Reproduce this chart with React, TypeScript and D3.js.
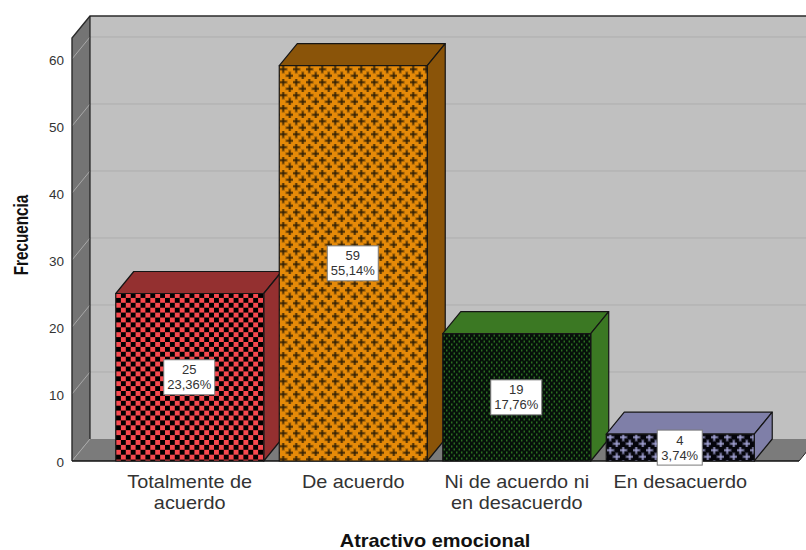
import React from "react";
import * as d3 from "d3";

const categories = ["Totalmente de|acuerdo", "De acuerdo", "Ni de acuerdo ni|en desacuerdo", "En desacuerdo"];
const frequencies = [25, 59, 19, 4];
const percents = ["23,36%", "55,14%", "17,76%", "3,74%"];
const yTicks = [0, 10, 20, 30, 40, 50, 60];
const frontColors = ["#f7494f", "#e68a08", "#2f7a24", "#a4a4d8"];
const sideColors = ["#943030", "#8a5409", "#3b7823", "#7f7fa8"];

const W = 806;
const H = 550;
const DX = 18;
const DY = 22;
const font = "'Liberation Sans', Arial, sans-serif";

const y = d3.scaleLinear().domain([0, 60]).range([461, 59]);
const x = d3.scaleBand<string>().domain(categories).range([108, 762]).paddingInner(0.095).paddingOuter(0.0475);

const wallLeft = 72;
const wallTop = 38;
const floorRight = 799;

const poly = (pts: [number, number][]) => pts.map((p) => p.join(",")).join(" ");

function Cross({ cx, cy, fill }: { cx: number; cy: number; fill: string }) {
  return (
    <g fill={fill}>
      <rect x={cx - 1.5} y={cy - 4.5} width={3} height={9} fillOpacity={0.3} />
      <rect x={cx - 4.5} y={cy - 1.5} width={9} height={3} fillOpacity={0.3} />
      <rect x={cx - 0.9} y={cy - 3.4} width={1.8} height={6.8} fillOpacity={0.65} />
      <rect x={cx - 3.4} y={cy - 0.9} width={6.8} height={1.8} fillOpacity={0.65} />
    </g>
  );
}

function Patterns() {
  const centres = [[3.25, 3.25], [9.75, 9.75]];
  return (
    <defs>
      <pattern id="fill0" width={9.8} height={9.8} patternUnits="userSpaceOnUse" x={116} y={293}>
        <rect width={9.8} height={9.8} fill="#000" />
        <rect x={0} y={0} width={4.9} height={4.9} fill={frontColors[0]} />
        <rect x={4.9} y={4.9} width={4.9} height={4.9} fill={frontColors[0]} />
      </pattern>
      <pattern id="fill1" width={13} height={13} patternUnits="userSpaceOnUse" x={280} y={66}>
        <rect width={13} height={13} fill={frontColors[1]} />
        {centres.map(([cx, cy], i) => (
          <Cross key={i} cx={cx} cy={cy} fill="#2e1d04" />
        ))}
      </pattern>
      <pattern id="fill2" width={5} height={6} patternUnits="userSpaceOnUse" x={443} y={334}>
        <rect width={5} height={6} fill="#06100a" />
        <rect x={0.6} y={0.5} width={1.3} height={2} fill={frontColors[2]} />
        <rect x={3.1} y={3.5} width={1.3} height={2} fill={frontColors[2]} />
      </pattern>
      <pattern id="fill3" width={13} height={13} patternUnits="userSpaceOnUse" x={607} y={434}>
        <rect width={13} height={13} fill="#05050c" />
        {centres.map(([cx, cy], i) => (
          <Cross key={i} cx={cx} cy={cy} fill={frontColors[3]} />
        ))}
      </pattern>
    </defs>
  );
}

export default function App() {
  const y0 = y(0);
  return (
    <svg
      width={W}
      height={H}
      viewBox={`0 0 ${W} ${H}`}
      style={{ position: "absolute", left: 0, top: 0, background: "#fff" }}
      fontFamily={font}
    >
      <Patterns />

      {/* chart box: back wall, left wall and floor */}
      <rect x={wallLeft + DX} y={wallTop - DY} width={W} height={y0 - wallTop} fill="#c0c0c0" />
      <polygon
        points={poly([[wallLeft, wallTop], [wallLeft + DX, wallTop - DY], [wallLeft + DX, y0 - DY], [wallLeft, y0]])}
        fill="#747474"
      />
      <polygon
        points={poly([[wallLeft, y0], [wallLeft + DX, y0 - DY], [floorRight + DX, y0 - DY], [floorRight, y0]])}
        fill="#7b7b7b"
      />

      {/* gridlines run along the left wall and the back wall */}
      {yTicks.slice(1).map((t) => (
        <g key={t} fill="none">
          <line x1={wallLeft} y1={y(t)} x2={wallLeft + DX} y2={y(t) - DY} stroke="#a8a8a8" strokeWidth={1} />
          <line x1={wallLeft + DX} y1={y(t) - DY} x2={W} y2={y(t) - DY} stroke="#adadad" strokeWidth={1} />
        </g>
      ))}
      <line x1={wallLeft + DX} y1={y0 - DY} x2={wallLeft} y2={y0} stroke="#a8a8a8" strokeWidth={1} />

      {/* box outlines */}
      <polyline
        points={poly([[wallLeft, y0], [wallLeft, wallTop], [wallLeft + DX, wallTop - DY], [W, wallTop - DY]])}
        fill="none"
        stroke="#2b2b2b"
        strokeWidth={1.4}
      />
      <line x1={wallLeft + DX} y1={wallTop - DY} x2={wallLeft + DX} y2={y0 - DY} stroke="#1d1d1d" strokeWidth={1.2} />
      <line x1={wallLeft} y1={y0} x2={floorRight} y2={y0} stroke="#111" strokeWidth={1.6} />
      <line x1={floorRight} y1={y0} x2={floorRight + DX} y2={y0 - DY} stroke="#222" strokeWidth={1} />

      {/* y axis tick labels */}
      <g fontSize={13.5} fill="#333" textAnchor="end">
        {yTicks.map((t) => (
          <text key={t} x={64} y={y(t) + 5.5}>
            {t}
          </text>
        ))}
      </g>

      {/* 3D bars */}
      {categories.map((c, i) => {
        const l = x(c) as number;
        const r = l + x.bandwidth();
        const top = y(frequencies[i]);
        return (
          <g key={c} stroke="#151515" strokeWidth={1.2} strokeLinejoin="round">
            <polygon
              points={poly([[l, top], [l + DX, top - DY], [r + DX, top - DY], [r, top]])}
              fill={sideColors[i]}
            />
            <polygon
              points={poly([[r, top], [r + DX, top - DY], [r + DX, y0 - DY], [r, y0]])}
              fill={sideColors[i]}
            />
            <rect x={l} y={top} width={x.bandwidth()} height={y0 - top} fill={`url(#fill${i})`} />
          </g>
        );
      })}

      {/* value labels in the middle of each bar */}
      {categories.map((c, i) => {
        const cx = (x(c) as number) + x.bandwidth() / 2 - 0.5;
        const cy = (y(frequencies[i]) + y0) / 2;
        const boxW = i === 3 ? 45 : 51;
        return (
          <g key={c}>
            <rect x={cx - boxW / 2} y={cy - 17.5} width={boxW} height={35} fill="#fff" stroke="#7a7a7a" strokeWidth={1} />
            <g fontSize={13} fill="#333" textAnchor="middle">
              <text x={cx} y={cy - 3}>
                {frequencies[i]}
              </text>
              <text x={cx} y={cy + 12}>
                {percents[i]}
              </text>
            </g>
          </g>
        );
      })}

      {/* category labels, set slightly wide */}
      <g fontSize={17.5} fill="#333" textAnchor="middle">
        {categories.map((c) =>
          c.split("|").map((line, j) => (
            <text
              key={line}
              transform={`translate(${(x(c) as number) + x.bandwidth() / 2},${488 + j * 21}) scale(1.136,1)`}
            >
              {line}
            </text>
          ))
        )}
      </g>

      {/* axis titles */}
      <text
        transform="translate(435,547) scale(1.14,1)"
        fontSize={17.5}
        fontWeight="bold"
        fill="#111"
        textAnchor="middle"
      >
        Atractivo emocional
      </text>
      <text
        transform="translate(28,235) rotate(-90) scale(1,1.38)"
        fontSize={15.3}
        fontWeight="bold"
        fill="#111"
        textAnchor="middle"
      >
        Frecuencia
      </text>
    </svg>
  );
}
